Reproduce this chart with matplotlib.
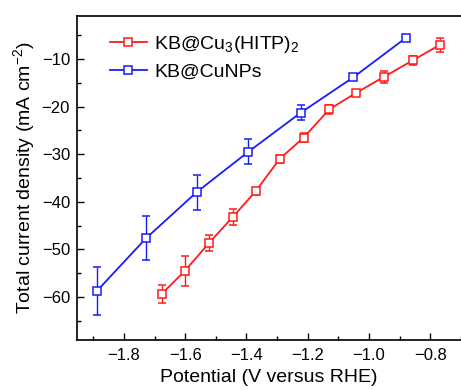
import numpy as np
import matplotlib.pyplot as plt

plt.rcParams['font.family'] = ['Liberation Sans', 'DejaVu Sans']
plt.rcParams['mathtext.fontset'] = 'custom'
plt.rcParams['mathtext.rm'] = 'Liberation Sans'

# KB@Cu3(HITP)2
v_hitp = [-1.676, -1.601, -1.523, -1.445, -1.370, -1.292, -1.213, -1.130, -1.044, -0.952, -0.857, -0.770]
j_hitp = [-59.3, -54.5, -48.7, -43.2, -37.8, -31.0, -26.5, -20.6, -17.2, -13.8, -10.3, -7.1]
e_hitp = [1.9, 3.2, 1.7, 1.6, 0.8, 0.9, 1.0, 1.0, 0.6, 1.3, 1.0, 1.4]

# KB@CuNPs
v_np = [-1.888, -1.727, -1.563, -1.394, -1.223, -1.052, -0.880]
j_np = [-58.7, -47.6, -38.0, -29.5, -21.3, -13.9, -5.6]
e_np = [5.0, 4.7, 3.7, 2.6, 1.6, 0.5, 0.0]

fig = plt.figure(figsize=(4.61, 3.90), dpi=100)
ax = fig.add_axes([77/461, 50/390, 384/461, 324/390])

c1 = ax.errorbar(v_hitp, j_hitp, yerr=e_hitp, color='#ff1a1a', marker='s', ms=5.5,
                 mfc='white', mec='#ff1a1a', mew=1.1, lw=1.3, capsize=3, elinewidth=1.0)
c2 = ax.errorbar(v_np, j_np, yerr=e_np, color='#1a1aff', marker='s', ms=5.5,
                 mfc='white', mec='#1a1aff', mew=1.1, lw=1.3, capsize=3, elinewidth=1.0)

ax.set_xlim(-1.953, -0.72)
ax.set_ylim(-69, -1)
ax.set_xticks([-1.8, -1.6, -1.4, -1.2, -1.0, -0.8])
ax.set_xticks(np.arange(-1.9, -0.65, 0.2), minor=True)
ax.set_yticks([-60, -50, -40, -30, -20, -10])
ax.set_yticks(np.arange(-65, 0, 10), minor=True)
ax.tick_params(direction='in', which='major', length=5, width=1, labelsize=12)
ax.tick_params(axis='x', pad=6)
ax.tick_params(axis='y', pad=5)
ax.tick_params(direction='in', which='minor', length=3, width=1)
ax.tick_params(top=False, right=False, which='both')
ax.spines['right'].set_visible(False)
for s in ['left', 'bottom', 'top']:
    ax.spines[s].set_linewidth(1.2)

ax.set_xlabel('Potential (V versus RHE)', fontsize=14, labelpad=4)
ax.set_ylabel(r'Total current density (mA cm$^{-2}$)', fontsize=14, labelpad=3)

ax.legend([c1[0], c2[0]], [r'KB@Cu$_3$(HITP)$_2$', 'KB@CuNPs'],
          loc='upper left', bbox_to_anchor=(0.085, 0.945), frameon=False,
          fontsize=14, handlelength=1.9, handletextpad=0.4, borderaxespad=0,
          borderpad=0, labelspacing=0.45)

fig.savefig('out.png', dpi=100)
